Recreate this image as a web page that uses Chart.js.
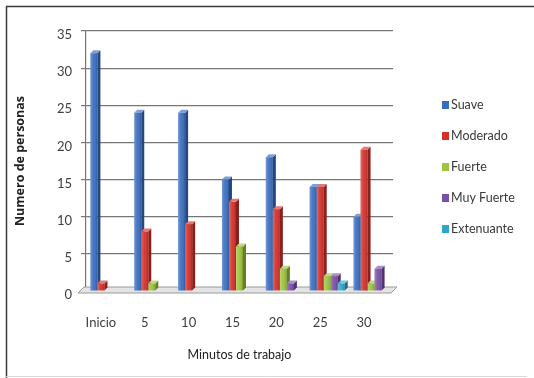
<!DOCTYPE html>
<html>
<head>
<meta charset="utf-8">
<script src="https://cdn.jsdelivr.net/npm/chart.js@4/dist/chart.umd.min.js"></script>
<style>
  html, body { margin: 0; padding: 0; background: #ffffff; }
  #wrap { position: relative; width: 534px; height: 378px; }
</style>
</head>
<body>
<div id="wrap"><canvas id="c" width="534" height="378"></canvas></div>
<script>
// Minutes of work and perceived effort counts per level
const categories = ['Inicio', '5', '10', '15', '20', '25', '30'];
const suave      = [32, 24, 24, 15, 18, 14, 10];
const moderado   = [1, 8, 9, 12, 11, 14, 19];
const fuerte     = [0, 1, 0, 6, 3, 2, 1];
const muyFuerte  = [0, 0, 0, 0, 1, 2, 3];
const extenuante = [0, 0, 0, 0, 0, 1, 0];
const seriesNames  = ['Suave', 'Moderado', 'Fuerte', 'Muy Fuerte', 'Extenuante'];
const seriesValues = [suave, moderado, fuerte, muyFuerte, extenuante];
const seriesColors = ['#3A6DC0', '#D5302A', '#9DC43C', '#7B4FA8', '#2EA8CA'];
const yTicks = [0, 5, 10, 15, 20, 25, 30, 35];

const FONT = 'Lato, "Open Sans", "Liberation Sans", sans-serif';

function shade(hex, f) {
  const n = parseInt(hex.slice(1), 16);
  let r = (n >> 16) & 255, g = (n >> 8) & 255, b = n & 255;
  const t = f < 0 ? 0 : 255, p = Math.abs(f);
  r = Math.round((t - r) * p + r);
  g = Math.round((t - g) * p + g);
  b = Math.round((t - b) * p + b);
  return 'rgb(' + r + ',' + g + ',' + b + ')';
}

const DEPTH = 3;

// Floor slab and the side/top faces of each column
const depthPlugin = {
  id: 'depth',
  beforeDatasetsDraw(chart) {
    const { ctx, chartArea: a } = chart;
    ctx.save();
    ctx.beginPath();
    ctx.moveTo(a.left - 8, a.bottom + 2);
    ctx.lineTo(a.right - 2, a.bottom + 2);
    ctx.lineTo(a.right + 4, a.bottom - 4);
    ctx.lineTo(a.left - 2, a.bottom - 4);
    ctx.closePath();
    ctx.fillStyle = '#e4e4e4';
    ctx.fill();
    ctx.strokeStyle = '#9a9a9a';
    ctx.lineWidth = 1;
    ctx.stroke();

    chart.data.datasets.forEach((ds, i) => {
      const meta = chart.getDatasetMeta(i);
      const col = seriesColors[i];
      meta.data.forEach((el) => {
        const { x, y, base, width } = el.getProps(['x', 'y', 'base', 'width'], true);
        if (base - y < 0.5) return;
        const l = x - width / 2, r = x + width / 2;
        ctx.fillStyle = shade(col, -0.35);
        ctx.beginPath();
        ctx.moveTo(r, y); ctx.lineTo(r + DEPTH, y - DEPTH);
        ctx.lineTo(r + DEPTH, base - DEPTH); ctx.lineTo(r, base);
        ctx.closePath(); ctx.fill();
        ctx.fillStyle = shade(col, 0.35);
        ctx.beginPath();
        ctx.moveTo(l, y); ctx.lineTo(l + DEPTH, y - DEPTH);
        ctx.lineTo(r + DEPTH, y - DEPTH); ctx.lineTo(r, y);
        ctx.closePath(); ctx.fill();
      });
    });
    ctx.restore();
  },
  afterDatasetsDraw(chart) {
    const { ctx } = chart;
    ctx.save();
    chart.data.datasets.forEach((ds, i) => {
      const meta = chart.getDatasetMeta(i);
      meta.data.forEach((el) => {
        const { x, y, base, width } = el.getProps(['x', 'y', 'base', 'width'], true);
        if (base - y < 0.5) return;
        const l = x - width / 2;
        const g = ctx.createLinearGradient(l, 0, l + width, 0);
        g.addColorStop(0, 'rgba(255,255,255,0.28)');
        g.addColorStop(0.45, 'rgba(255,255,255,0.05)');
        g.addColorStop(1, 'rgba(0,0,0,0.22)');
        ctx.fillStyle = g;
        ctx.fillRect(l, y, width, base - y);
      });
    });
    ctx.restore();
  }
};

// Legend on the right and the outer frame
const sidePlugin = {
  id: 'side',
  afterDraw(chart) {
    const { ctx } = chart;
    ctx.save();
    ctx.font = '12.5px ' + FONT;
    ctx.textBaseline = 'middle';
    ctx.textAlign = 'left';
    chart.data.datasets.forEach((ds, i) => {
      const cy = 105 + i * 31;
      ctx.fillStyle = ds.backgroundColor;
      ctx.fillRect(442, cy - 4, 7, 8);
      ctx.fillStyle = '#3a3a3a';
      ctx.fillText(ds.label, 451, cy);
    });
    ctx.strokeStyle = '#3c3c3c';
    ctx.lineWidth = 1.5;
    ctx.beginPath();
    ctx.moveTo(6.5, 378); ctx.lineTo(6.5, 6.5); ctx.lineTo(534, 6.5);
    ctx.stroke();
    ctx.strokeStyle = '#d8d8d8';
    ctx.lineWidth = 1;
    ctx.beginPath();
    ctx.moveTo(6, 376.5); ctx.lineTo(527, 376.5);
    ctx.stroke();
    ctx.restore();
  }
};

new Chart(document.getElementById('c'), {
  type: 'bar',
  data: {
    labels: categories,
    datasets: seriesNames.map((name, i) => ({
      label: name,
      data: seriesValues[i],
      backgroundColor: seriesColors[i],
      borderWidth: 0,
      categoryPercentage: 0.8,
      barPercentage: 1.0
    }))
  },
  options: {
    responsive: false,
    animation: false,
    devicePixelRatio: 1,
    layout: { padding: { top: 31, right: 141, bottom: 0, left: 0 } },
    plugins: {
      legend: { display: false },
      tooltip: { enabled: false }
    },
    scales: {
      x: {
        grid: { display: false, drawTicks: false },
        border: { display: false },
        ticks: {
          color: '#404040',
          font: { family: FONT, size: 13 },
          padding: 24,
          labelOffset: -7,
          maxRotation: 0
        },
        title: {
          display: true,
          text: 'Minutos de trabajo',
          color: '#222222',
          font: { family: FONT, size: 12.5 },
          padding: { top: 0, bottom: 16 }
        },
        afterFit(s) { s.height = 87; }
      },
      y: {
        min: 0,
        max: 35,
        afterBuildTicks(s) { s.ticks = yTicks.map(v => ({ value: v })); },
        grid: { color: '#767676', lineWidth: 1.2, drawTicks: true, tickLength: 5 },
        border: { display: true, color: '#767676', width: 1.2 },
        ticks: {
          color: '#404040',
          font: { family: FONT, size: 13 },
          padding: 9,
          labelOffset: 4
        },
        title: {
          display: true,
          text: 'Numero de personas',
          color: '#222222',
          font: { family: '"Open Sans", Lato, sans-serif', size: 12.5, weight: 'bold' },
          padding: { top: 13, bottom: 0 }
        },
        afterFit(s) { s.width = 86; }
      }
    }
  },
  plugins: [depthPlugin, sidePlugin]
});
</script>
</body>
</html>
